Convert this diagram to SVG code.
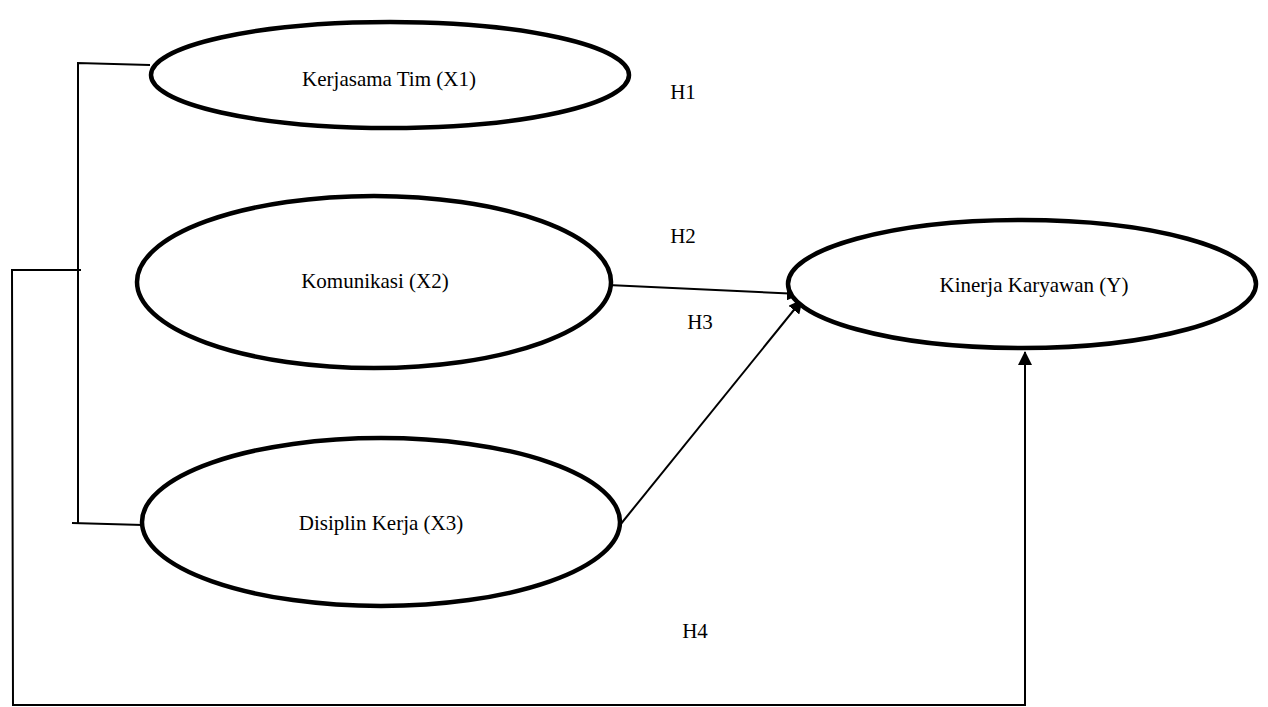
<svg xmlns="http://www.w3.org/2000/svg" width="1268" height="707" viewBox="0 0 1268 707">
<style>
.node ellipse{fill:#fff;stroke:#000;stroke-width:4.5}
.lbl{font-size:21px;fill:#000}
.conn line,.conn polyline{stroke:#000;stroke-width:2;fill:none}
</style>
<defs>
<marker id="ah2" markerWidth="14" markerHeight="14" refX="13" refY="7" orient="auto" markerUnits="userSpaceOnUse" viewBox="0 0 14 14">
<path d="M0,0 L14,7 L0,14 z" fill="#000"/>
</marker>
</defs>
<g class="conn">
<polyline points="150,65 78,63 78,523"/>
<line x1="72" y1="523" x2="143" y2="525"/>
<polyline points="81,270 12,270 13,705 1025,705 1025,352" marker-end="url(#ah2)"/>
<line x1="608" y1="285" x2="800" y2="294" marker-end="url(#ah2)"/>
<line x1="620" y1="525" x2="802" y2="300" marker-end="url(#ah2)"/>
</g>
<g font-family="Liberation Serif, Times New Roman, DejaVu Serif, serif">
<g id="x1" class="node"><ellipse cx="390" cy="75" rx="239" ry="53"/><text class="lbl" x="389" y="86" text-anchor="middle">Kerjasama Tim (X1)</text></g>
<g id="x2" class="node"><ellipse cx="374" cy="282" rx="237" ry="86"/><text class="lbl" x="375" y="288" text-anchor="middle">Komunikasi (X2)</text></g>
<g id="x3" class="node"><ellipse cx="381" cy="522" rx="239" ry="84"/><text class="lbl" x="381" y="530" text-anchor="middle">Disiplin Kerja (X3)</text></g>
<g id="y" class="node"><ellipse cx="1022" cy="284" rx="234" ry="64"/><text class="lbl" x="1034" y="292" text-anchor="middle">Kinerja Karyawan (Y)</text></g>
<g id="labels">
<text class="lbl" x="683" y="99" text-anchor="middle">H1</text>
<text class="lbl" x="683" y="243" text-anchor="middle">H2</text>
<text class="lbl" x="700" y="329" text-anchor="middle">H3</text>
<text class="lbl" x="695" y="638" text-anchor="middle">H4</text>
</g>
</g>
</svg>
